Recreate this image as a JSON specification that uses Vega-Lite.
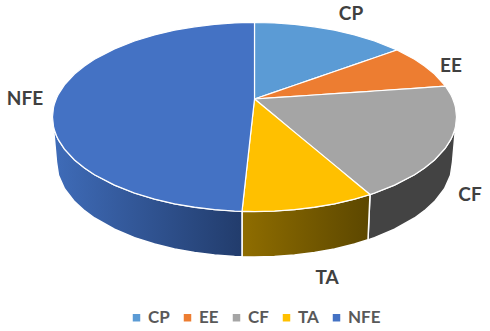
{"$schema":"https://vega.github.io/schema/vega-lite/v6.json","width":490,"height":331,"padding":0,"autosize":"none","background":"white","config":{"view":{"stroke":null}},
"datasets":{"parts":[
{"part":"wall","slice":"CF","u":113.5,"v":-140.8,"v2":-140.8},{"part":"wall","slice":"CF","u":115.5,"v":-95.5,"v2":-140.2},{"part":"wall","slice":"CF","u":120,"v":-94,"v2":-138.6},{"part":"wall","slice":"CF","u":140,"v":-86.1,"v2":-130.2},{"part":"wall","slice":"CF","u":160,"v":-75.7,"v2":-119},{"part":"wall","slice":"CF","u":170,"v":-69,"v2":-111.7},{"part":"wall","slice":"CF","u":180,"v":-60.9,"v2":-102.6},{"part":"wall","slice":"CF","u":190,"v":-50.1,"v2":-89.7},{"part":"wall","slice":"CF","u":196,"v":-40.9,"v2":-76.4},{"part":"wall","slice":"CF","u":198,"v":-36.7,"v2":-63},{"part":"wall","slice":"CF","u":200,"v":-31.3,"v2":-40.5},{"part":"wall","slice":"CF","u":202,"v":-18,"v2":-18},
{"part":"wall","slice":"TA","u":-12.5,"v":-112.3,"v2":-157.8},{"part":"wall","slice":"TA","u":0,"v":-112.5,"v2":-158},{"part":"wall","slice":"TA","u":20,"v":-112,"v2":-157.5},{"part":"wall","slice":"TA","u":40,"v":-110.6,"v2":-156},{"part":"wall","slice":"TA","u":60,"v":-108.2,"v2":-153.5},{"part":"wall","slice":"TA","u":80,"v":-104.8,"v2":-149.9},{"part":"wall","slice":"TA","u":100,"v":-100.1,"v2":-145},{"part":"wall","slice":"TA","u":113.5,"v":-96.1,"v2":-140.8},{"part":"wall","slice":"TA","u":115.5,"v":-95.5,"v2":-95.5},
{"part":"wall","slice":"NFE","u":-202,"v":-18,"v2":-18},{"part":"wall","slice":"NFE","u":-200,"v":-31.3,"v2":-40.5},{"part":"wall","slice":"NFE","u":-198,"v":-36.7,"v2":-63},{"part":"wall","slice":"NFE","u":-196,"v":-40.9,"v2":-76.4},{"part":"wall","slice":"NFE","u":-190,"v":-50.1,"v2":-89.7},{"part":"wall","slice":"NFE","u":-180,"v":-60.9,"v2":-102.6},{"part":"wall","slice":"NFE","u":-170,"v":-69,"v2":-111.7},{"part":"wall","slice":"NFE","u":-160,"v":-75.7,"v2":-119},{"part":"wall","slice":"NFE","u":-140,"v":-86.1,"v2":-130.2},{"part":"wall","slice":"NFE","u":-120,"v":-94,"v2":-138.6},{"part":"wall","slice":"NFE","u":-100,"v":-100.1,"v2":-145},{"part":"wall","slice":"NFE","u":-80,"v":-104.8,"v2":-149.9},{"part":"wall","slice":"NFE","u":-60,"v":-108.2,"v2":-153.5},{"part":"wall","slice":"NFE","u":-40,"v":-110.6,"v2":-156},{"part":"wall","slice":"NFE","u":-20,"v":-112,"v2":-157.5},{"part":"wall","slice":"NFE","u":-12.5,"v":-112.3,"v2":-157.8},
{"part":"top","slice":"CP","u":0,"v":76.5,"v2":0},{"part":"top","slice":"CP","u":20,"v":76,"v2":6.9},{"part":"top","slice":"CP","u":40,"v":74.6,"v2":13.8},{"part":"top","slice":"CP","u":60,"v":72.2,"v2":20.6},{"part":"top","slice":"CP","u":80,"v":68.8,"v2":27.5},{"part":"top","slice":"CP","u":100,"v":64.1,"v2":34.4},{"part":"top","slice":"CP","u":120,"v":58,"v2":41.3},{"part":"top","slice":"CP","u":142.5,"v":49,"v2":49},
{"part":"top","slice":"EE","u":0,"v":0,"v2":0},{"part":"top","slice":"EE","u":20,"v":6.9,"v2":1.3},{"part":"top","slice":"EE","u":40,"v":13.8,"v2":2.7},{"part":"top","slice":"EE","u":60,"v":20.6,"v2":4},{"part":"top","slice":"EE","u":80,"v":27.5,"v2":5.4},{"part":"top","slice":"EE","u":100,"v":34.4,"v2":6.7},{"part":"top","slice":"EE","u":120,"v":41.3,"v2":8},{"part":"top","slice":"EE","u":142.5,"v":49,"v2":9.5},{"part":"top","slice":"EE","u":160,"v":39.7,"v2":10.7},{"part":"top","slice":"EE","u":170,"v":33,"v2":11.4},{"part":"top","slice":"EE","u":180,"v":24.9,"v2":12.1},{"part":"top","slice":"EE","u":191,"v":12.8,"v2":12.8},
{"part":"top","slice":"CF","u":0,"v":0,"v2":0},{"part":"top","slice":"CF","u":20,"v":1.3,"v2":-16.5},{"part":"top","slice":"CF","u":40,"v":2.7,"v2":-33.1},{"part":"top","slice":"CF","u":60,"v":4,"v2":-49.6},{"part":"top","slice":"CF","u":80,"v":5.4,"v2":-66.1},{"part":"top","slice":"CF","u":100,"v":6.7,"v2":-82.7},{"part":"top","slice":"CF","u":115.5,"v":7.7,"v2":-95.5},{"part":"top","slice":"CF","u":120,"v":8,"v2":-94},{"part":"top","slice":"CF","u":140,"v":9.4,"v2":-86.1},{"part":"top","slice":"CF","u":160,"v":10.7,"v2":-75.7},{"part":"top","slice":"CF","u":170,"v":11.4,"v2":-69},{"part":"top","slice":"CF","u":180,"v":12.1,"v2":-60.9},{"part":"top","slice":"CF","u":191,"v":12.8,"v2":-48.8},{"part":"top","slice":"CF","u":196,"v":4.9,"v2":-40.9},{"part":"top","slice":"CF","u":198,"v":0.7,"v2":-36.7},{"part":"top","slice":"CF","u":200,"v":-4.7,"v2":-31.3},{"part":"top","slice":"CF","u":201,"v":-8.6,"v2":-27.4},{"part":"top","slice":"CF","u":202,"v":-18,"v2":-18},
{"part":"top","slice":"TA","u":-12.5,"v":-112.3,"v2":-112.3},{"part":"top","slice":"TA","u":-6,"v":-53.9,"v2":-112.4},{"part":"top","slice":"TA","u":0,"v":0,"v2":-112.5},{"part":"top","slice":"TA","u":20,"v":-16.5,"v2":-112},{"part":"top","slice":"TA","u":40,"v":-33.1,"v2":-110.6},{"part":"top","slice":"TA","u":60,"v":-49.6,"v2":-108.2},{"part":"top","slice":"TA","u":80,"v":-66.1,"v2":-104.8},{"part":"top","slice":"TA","u":100,"v":-82.7,"v2":-100.1},{"part":"top","slice":"TA","u":115.5,"v":-95.5,"v2":-95.5},
{"part":"top","slice":"NFE","u":-202,"v":-18,"v2":-18},{"part":"top","slice":"NFE","u":-201,"v":-8.6,"v2":-27.4},{"part":"top","slice":"NFE","u":-200,"v":-4.7,"v2":-31.3},{"part":"top","slice":"NFE","u":-198,"v":0.7,"v2":-36.7},{"part":"top","slice":"NFE","u":-196,"v":4.9,"v2":-40.9},{"part":"top","slice":"NFE","u":-190,"v":14.1,"v2":-50.1},{"part":"top","slice":"NFE","u":-180,"v":24.9,"v2":-60.9},{"part":"top","slice":"NFE","u":-170,"v":33,"v2":-69},{"part":"top","slice":"NFE","u":-160,"v":39.7,"v2":-75.7},{"part":"top","slice":"NFE","u":-140,"v":50.1,"v2":-86.1},{"part":"top","slice":"NFE","u":-120,"v":58,"v2":-94},{"part":"top","slice":"NFE","u":-100,"v":64.1,"v2":-100.1},{"part":"top","slice":"NFE","u":-80,"v":68.8,"v2":-104.8},{"part":"top","slice":"NFE","u":-60,"v":72.2,"v2":-108.2},{"part":"top","slice":"NFE","u":-40,"v":74.6,"v2":-110.6},{"part":"top","slice":"NFE","u":-20,"v":76,"v2":-112},{"part":"top","slice":"NFE","u":-12.5,"v":76.3,"v2":-112.3},{"part":"top","slice":"NFE","u":-6,"v":76.4,"v2":-53.9},{"part":"top","slice":"NFE","u":0,"v":76.5,"v2":0}
],
"labels":[{"slice":"CP","u":96.5,"v":85.5},{"slice":"EE","u":196.5,"v":33},{"slice":"CF","u":215.5,"v":-96},{"slice":"TA","u":72.5,"v":-179},{"slice":"NFE","u":-229.5,"v":0}]},
"encoding":{
"x":{"field":"u","type":"quantitative","axis":null,"scale":{"domain":[-254.5,235.5],"nice":false,"zero":false}},
"y":{"field":"v","type":"quantitative","axis":null,"scale":{"domain":[-232,99],"nice":false,"zero":false}}},
"layer":[
{"data":{"name":"parts"},"transform":[{"filter":"datum.part==='wall' && datum.slice==='CF'"}],"mark":{"type":"area","fill":"#434343","stroke":"white","strokeWidth":1.5},"encoding":{"y2":{"field":"v2"}}},
{"data":{"name":"parts"},"transform":[{"filter":"datum.part==='wall' && datum.slice==='TA'"}],"mark":{"type":"area","stroke":"white","strokeWidth":1.5,"fill":{"gradient":"linear","x1":0,"y1":0,"x2":1,"y2":0,"stops":[{"offset":0,"color":"#8F6D00"},{"offset":1,"color":"#5C4700"}]}},"encoding":{"y2":{"field":"v2"}}},
{"data":{"name":"parts"},"transform":[{"filter":"datum.part==='wall' && datum.slice==='NFE'"}],"mark":{"type":"area","stroke":"white","strokeWidth":1.5,"fill":{"gradient":"linear","x1":0,"y1":0,"x2":1,"y2":0,"stops":[{"offset":0,"color":"#3F6CB9"},{"offset":1,"color":"#223C6C"}]}},"encoding":{"y2":{"field":"v2"}}},
{"data":{"name":"parts"},"transform":[{"filter":"datum.part==='top'"}],"mark":{"type":"area","stroke":"white","strokeWidth":1.2,"opacity":1},"encoding":{"y2":{"field":"v2"},"color":{"field":"slice","type":"nominal","scale":{"domain":["CP","EE","CF","TA","NFE"],"range":["#5B9BD5","#ED7D31","#A5A5A5","#FFC000","#4472C4"]},"legend":{"title":null,"orient":"none","legendX":128,"legendY":309,"direction":"horizontal","columns":5,"symbolType":"square","symbolSize":56,"symbolStrokeWidth":0,"labelFont":"Lato","labelFontSize":17,"labelFontWeight":"bold","labelColor":"#595959","columnPadding":9,"symbolOffset":0,"labelOffset":3}}}},
{"data":{"name":"labels"},"mark":{"type":"text","font":"Lato","fontSize":19,"fontWeight":"bold","fill":"#404040","align":"center","baseline":"middle"},"encoding":{"text":{"field":"slice","type":"nominal"}}}
]}
